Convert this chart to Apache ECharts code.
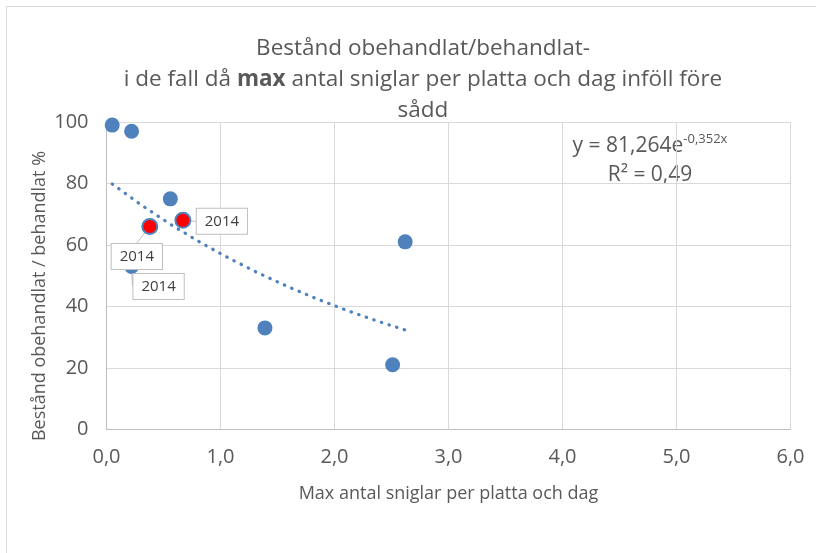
<!DOCTYPE html>
<html>
<head>
<meta charset="utf-8">
<script src="https://cdn.jsdelivr.net/npm/echarts@6/dist/echarts.min.js"></script>
<style>
html,body{margin:0;padding:0;background:#fff;}
#chart{width:816px;height:553px;}
</style>
</head>
<body>
<div id="chart"></div>
<script>
// ---- data ----
const xValues = [0.05, 0.22, 0.56, 0.38, 0.67, 0.22, 1.39, 2.62, 2.51];
const yValues = [99, 97, 75, 66, 68, 53, 33, 61, 21];
const pointLabels = ['', '', '', '2014', '2014', '2014', '', '', ''];
const highlighted = [false, false, false, true, true, false, false, false, false];
const labelShift = [null, null, null, [-13, 30], [39, 1], [27, 20], null, null, null];
const trendA = 81.264;
const trendB = -0.352;
const trendSteps = [0, 0.1, 0.2, 0.3, 0.4, 0.5, 0.6, 0.7, 0.8, 0.9, 1.0];
const xTicks = ['0,0', '1,0', '2,0', '3,0', '4,0', '5,0', '6,0'];
const titleLines = ['Bestånd obehandlat/behandlat-', 'i de fall då {b|max} antal sniglar per platta och dag inföll före', 'sådd'];
const xAxisTitle = 'Max antal sniglar per platta och dag';
const yAxisTitle = 'Bestånd obehandlat / behandlat %';

// ---- build ----
const FONT = 'Open Sans';
const BLUE = '#4F81BD';
const scatterData = xValues.map((x, i) => {
  const d = { value: [x, yValues[i]] };
  if (highlighted[i]) {
    d.itemStyle = { color: '#FF0000', borderColor: BLUE, borderWidth: 2 };
  }
  if (pointLabels[i]) {
    d.label = { show: true, formatter: pointLabels[i] };
  }
  return d;
});
const xMin = Math.min(...xValues), xMax = Math.max(...xValues);
const trendData = trendSteps.map(t => {
  const x = xMin + (xMax - xMin) * t;
  return [x, trendA * Math.exp(trendB * x)];
});

const chart = echarts.init(document.getElementById('chart'), null, { renderer: 'canvas' });
chart.setOption({
  animation: false,
  backgroundColor: '#fff',
  textStyle: { fontFamily: FONT },
  title: {
    text: titleLines.join('\n'),
    left: 418, top: 28, textAlign: 'center',
    textStyle: {
      fontFamily: FONT, fontSize: 22.5, fontWeight: 'normal', color: '#595959',
      lineHeight: 31,
      rich: { b: { fontFamily: FONT, fontSize: 22.5, fontWeight: 'bold', color: '#595959', lineHeight: 31 } }
    }
  },
  grid: { left: 106.5, right: 25.5, top: 122, bottom: 123.7, containLabel: false },
  xAxis: {
    type: 'value', min: 0, max: 6, interval: 1,
    name: xAxisTitle, nameLocation: 'middle', nameGap: 56,
    nameTextStyle: { fontFamily: FONT, fontSize: 18, color: '#595959' },
    axisLine: { show: true, lineStyle: { color: '#bfbfbf', width: 1 } },
    axisTick: { show: false },
    axisLabel: { fontFamily: FONT, fontSize: 20, color: '#595959', margin: 18,
      formatter: (v) => xTicks[Math.round(v)] },
    splitLine: { show: true, lineStyle: { color: '#d9d9d9', width: 1 } }
  },
  yAxis: {
    type: 'value', min: 0, max: 100, interval: 20,
    axisLine: { show: true, lineStyle: { color: '#bfbfbf', width: 1 } },
    axisTick: { show: false },
    axisLabel: { fontFamily: FONT, fontSize: 20, color: '#595959', margin: 18 },
    splitLine: { show: true, lineStyle: { color: '#d9d9d9', width: 1 } }
  },
  graphic: [
    { type: 'rect', shape: { x: 6.5, y: 6.5, width: 900, height: 700 }, style: { fill: 'none', stroke: '#d9d9d9', lineWidth: 1 }, silent: true, z: -10 },
    { type: 'text', x: 40, y: 296, rotation: Math.PI / 2,
      style: { text: yAxisTitle, fontFamily: FONT, fontSize: 18, fill: '#595959', align: 'center', verticalAlign: 'middle' } },
    { type: 'text', x: 650, y: 146,
      style: { text: 'y = 81,264e{s|-0,352x}', fontFamily: FONT, fontSize: 21, fill: '#595959', align: 'center', verticalAlign: 'middle',
        rich: { s: { fontFamily: FONT, fontSize: 13, fill: '#595959', verticalAlign: 'top', padding: [0, 0, 14, 0] } } } },
    { type: 'text', x: 650, y: 175,
      style: { text: 'R² = 0,49', fontFamily: FONT, fontSize: 21, fill: '#595959', align: 'center', verticalAlign: 'middle' } }
  ],
  series: [
    {
      type: 'line', data: trendData, showSymbol: false, symbol: 'none', smooth: false,
      lineStyle: { color: BLUE, width: 3.2, type: [0.5, 7.5], cap: 'round' },
      z: 2, silent: true
    },
    {
      type: 'scatter', data: scatterData, symbolSize: 15,
      itemStyle: { color: BLUE, opacity: 1 },
      label: {
        show: false, position: 'inside',
        fontFamily: FONT, fontSize: 15, color: '#404040',
        backgroundColor: '#fff', borderColor: '#bfbfbf', borderWidth: 1,
        padding: [5, 8]
      },
      labelLine: { show: true, lineStyle: { color: '#bfbfbf', width: 1 } },
      labelLayout: function (params) {
        const s = labelShift[params.dataIndex];
        if (!s) return {};
        return { dx: s[0], dy: s[1] };
      },
      z: 3
    }
  ]
});
</script>
</body>
</html>
